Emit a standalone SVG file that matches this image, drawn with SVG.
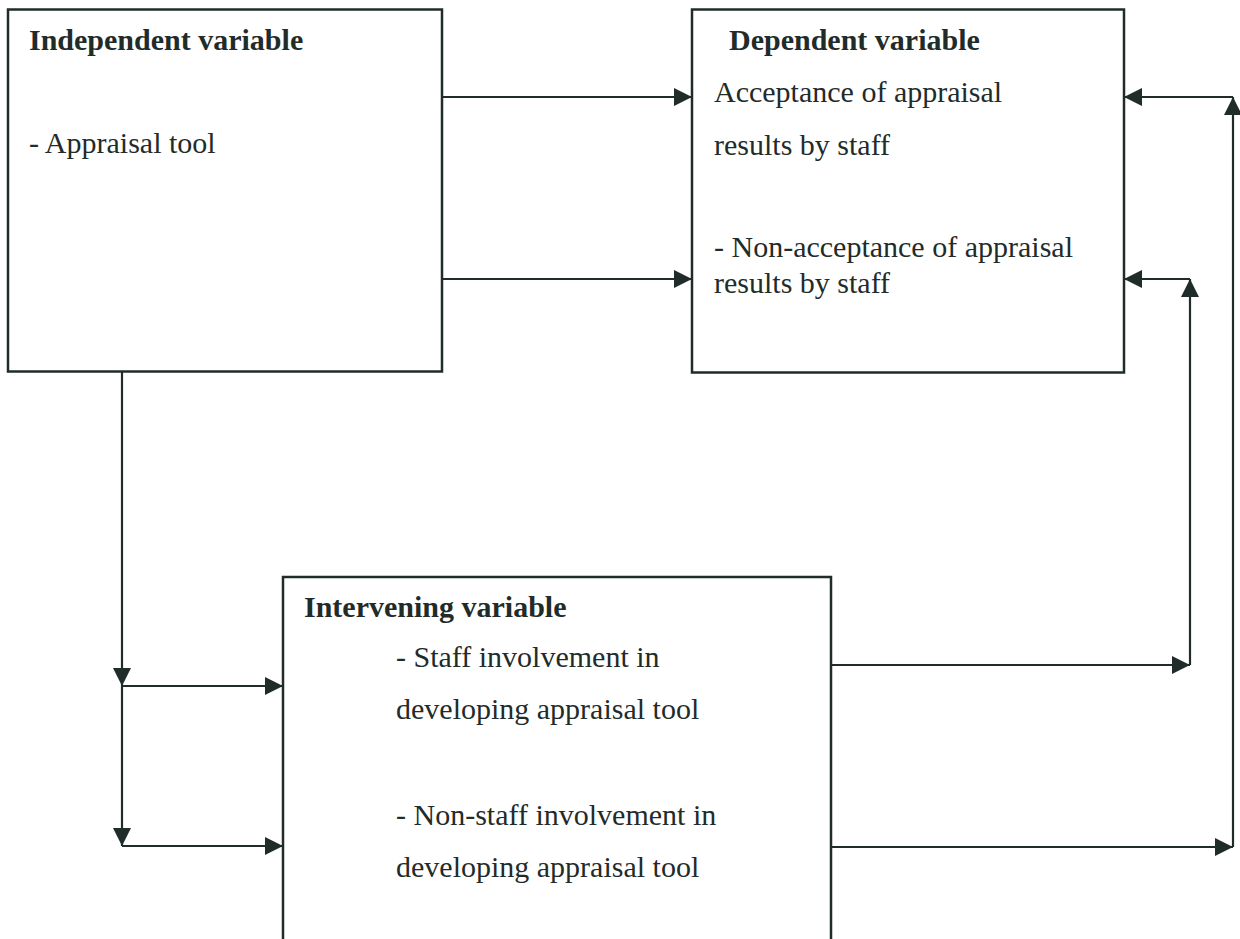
<svg xmlns="http://www.w3.org/2000/svg" width="1240" height="939" viewBox="0 0 1240 939">
  <style>
    .box { fill: none; stroke: #1f2c2a; stroke-width: 2.5; }
    .conn { fill: none; stroke: #1f2c2a; stroke-width: 2.2; }
    .t { font-family: "Liberation Serif", "Times New Roman", serif; font-size: 30px; fill: #1f2c2a; }
    .h { font-weight: bold; }
  </style>
  <defs>
    <marker id="arrow" viewBox="0 0 18 18" markerWidth="18" markerHeight="18" refX="18" refY="9" orient="auto" markerUnits="userSpaceOnUse">
      <path d="M0,0 L18,9 L0,18 z" fill="#1f2c2a"/>
    </marker>
  </defs>
  <rect x="0" y="0" width="1240" height="939" fill="#ffffff"/>

  <g id="independent">
    <rect class="box" x="8" y="9.5" width="434" height="362"/>
    <text class="t h" x="29" y="50">Independent variable</text>
    <text class="t" x="29" y="153">- Appraisal tool</text>
  </g>

  <g id="dependent">
    <rect class="box" x="692" y="9.5" width="432" height="363"/>
    <text class="t h" x="729" y="50">Dependent variable</text>
    <text class="t" x="714" y="102">Acceptance of appraisal</text>
    <text class="t" x="714" y="155">results by staff</text>
    <text class="t" x="714" y="257">- Non-acceptance of appraisal</text>
    <text class="t" x="714" y="293">results by staff</text>
  </g>

  <g id="intervening">
    <rect class="box" x="283" y="577" width="548" height="400"/>
    <text class="t h" x="304" y="617">Intervening variable</text>
    <text class="t" x="396" y="667">- Staff involvement in</text>
    <text class="t" x="396" y="719">developing appraisal tool</text>
    <text class="t" x="396" y="825">- Non-staff involvement in</text>
    <text class="t" x="396" y="877">developing appraisal tool</text>
  </g>

  <g id="connectors">
    <path class="conn" d="M442,97 H692" marker-end="url(#arrow)"/>
    <path class="conn" d="M442,279 H692" marker-end="url(#arrow)"/>
    <path class="conn" d="M122,372 V686" marker-end="url(#arrow)"/>
    <path class="conn" d="M122,686 V846" marker-end="url(#arrow)"/>
    <path class="conn" d="M122,686 H283" marker-end="url(#arrow)"/>
    <path class="conn" d="M122,846 H283" marker-end="url(#arrow)"/>
    <path class="conn" d="M831,665 H1190" marker-end="url(#arrow)"/>
    <path class="conn" d="M1190,665 V279" marker-end="url(#arrow)"/>
    <path class="conn" d="M1190,279 H1124" marker-end="url(#arrow)"/>
    <path class="conn" d="M831,847 H1233" marker-end="url(#arrow)"/>
    <path class="conn" d="M1233,847 V97" marker-end="url(#arrow)"/>
    <path class="conn" d="M1233,97 H1124" marker-end="url(#arrow)"/>
  </g>
</svg>
